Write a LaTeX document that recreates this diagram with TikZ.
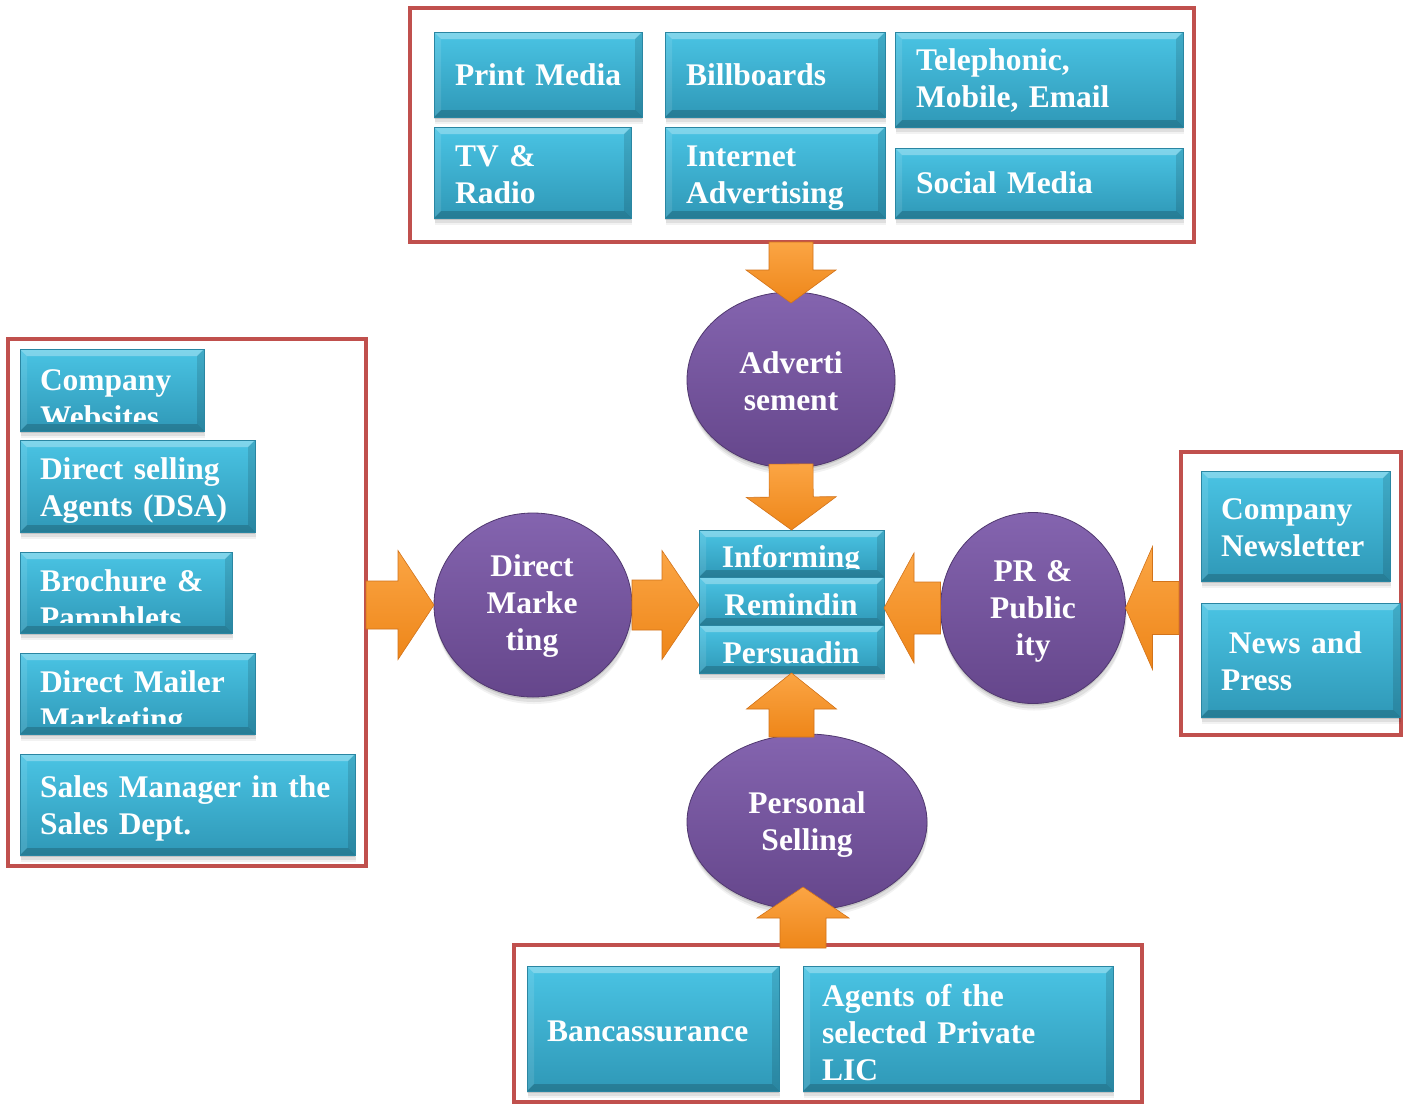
\documentclass[tikz,border=0pt]{standalone}
\usepackage{fontspec}
\setmainfont{Liberation Serif}
\usetikzlibrary{calc,shapes.geometric,shadows}
\definecolor{frm}{HTML}{C0504D}
\definecolor{cyT}{HTML}{4AC4E4}
\definecolor{cyB}{HTML}{2F98B7}
\definecolor{cyE}{HTML}{2A86A2}
\definecolor{puT}{HTML}{8464AF}
\definecolor{puB}{HTML}{65468B}
\definecolor{puE}{HTML}{50386F}
\definecolor{orT}{HTML}{FBA544}
\definecolor{orB}{HTML}{EE8619}
\definecolor{orE}{HTML}{D2731A}
\newcommand\mkbox[5]{\node[cbox, minimum width={#4-#2}, minimum height={#5-#3}] (#1) at ({(#2+#4)/2},{(#3+#5)/2}) {};}
\newcommand\mkframe[5]{\node[framebox, minimum width={#4-#2}, minimum height={#5-#3}] (#1) at ({(#2+#4)/2},{(#3+#5)/2}) {};}
\newcommand\barrow[5]{%
  \coordinate (h) at ($(#2)!#3pt!(#1)$);
  \path[orarrow] ($(#1)!#4pt!90:(#2)$) -- ($(h)!#4pt!-90:(#1)$) -- ($(h)!#5pt!-90:(#1)$) -- (#2)
     -- ($(h)!#5pt!90:(#1)$) -- ($(h)!#4pt!90:(#1)$) -- ($(#1)!#4pt!-90:(#2)$) -- cycle;}
\begin{document}
\begin{tikzpicture}[x=1pt,y=-1pt,
  framebox/.style={rectangle, draw=frm, line width=3.5pt, inner sep=0pt, outer sep=0pt},
  softshadow/.style={
    drop shadow={shadow xshift=0pt, shadow yshift=-2pt, opacity=0.12, fill=black},
    drop shadow={shadow xshift=1pt, shadow yshift=-5pt, opacity=0.08, fill=black},
    drop shadow={shadow xshift=1pt, shadow yshift=-7pt, opacity=0.05, fill=black}},
  cbox/.style={rectangle, inner sep=0pt, outer sep=0pt, top color=cyT, bottom color=cyB,
    draw=cyE, line width=0.8pt, softshadow,
    path picture={
      \fill[white,opacity=0.3] (path picture bounding box.north west) -- (path picture bounding box.north east)
        -- ([shift={(-7pt,-7pt)}]path picture bounding box.north east) -- ([shift={(7pt,-7pt)}]path picture bounding box.north west) -- cycle;
      \fill[black,opacity=0.18] (path picture bounding box.south west) -- (path picture bounding box.south east)
        -- ([shift={(-7pt,7pt)}]path picture bounding box.south east) -- ([shift={(7pt,7pt)}]path picture bounding box.south west) -- cycle;
      \fill[black,opacity=0.12] (path picture bounding box.north east) -- (path picture bounding box.south east)
        -- ([shift={(-7pt,7pt)}]path picture bounding box.south east) -- ([shift={(-7pt,-7pt)}]path picture bounding box.north east) -- cycle;
      \fill[white,opacity=0.1] (path picture bounding box.north west) -- (path picture bounding box.south west)
        -- ([shift={(7pt,7pt)}]path picture bounding box.south west) -- ([shift={(7pt,-7pt)}]path picture bounding box.north west) -- cycle;
    }},
  pell/.style={ellipse, inner sep=0pt, outer sep=0pt, top color=puT, bottom color=puB, draw=puE, line width=0.8pt,
    softshadow},
  orarrow/.style={top color=orT, bottom color=orB, draw=orE, line width=0.6pt, line join=miter},
  txt/.style={text=white, font=\fontsize{31.5}{37}\selectfont\bfseries, inner sep=0pt, outer sep=0pt,
    text width=420pt, align=left, anchor=base west},
  ctxt/.style={text=white, font=\fontsize{31.5}{37}\selectfont\bfseries, inner sep=0pt, outer sep=0pt,
    text width=240pt, align=center, anchor=base}
]
\useasboundingbox[fill=white] (0,0) rectangle (1407,1104);

% frames
\mkframe{topframe}{410}{8}{1194}{242}
\mkframe{lframe}{8}{339}{366}{866}
\mkframe{rframe}{1181}{452}{1401}{735}
\mkframe{bframe}{514}{945}{1142}{1102}

% top boxes
\mkbox{print}{434}{32}{642}{117}
\mkbox{bill}{665}{32}{885}{117}
\mkbox{tel}{895}{32}{1183}{127}
\mkbox{tv}{434}{127}{631}{218}
\mkbox{inet}{665}{127}{885}{218}
\mkbox{social}{895}{148}{1183}{218}
\node[txt] (t-print) at (455,85) {Print Media};
\node[txt] (t-bill) at (686,85) {Billboards};
\node[txt] (t-tel) at (916,70) {Telephonic,\\Mobile, Email};
\node[txt] (t-tv) at (455,166) {TV \&\\Radio};
\node[txt] (t-inet) at (686,166) {Internet\\Advertising};
\node[txt] (t-social) at (916,193) {Social Media};

% left boxes
\mkbox{cweb}{20}{349}{204}{431}
\mkbox{dsa}{20}{440}{255}{532}
\mkbox{broch}{20}{552}{232}{633}
\mkbox{mailer}{20}{653}{255}{734}
\mkbox{sales}{20}{754}{355}{855}
\begin{scope}
  \clip (cweb.north west) rectangle ($(cweb.south east)+(0pt,10pt)$);
  \node[txt] (t-cweb) at (40,390) {Company\\Websites};
\end{scope}
\node[txt] (t-dsa) at (40,479) {Direct selling\\Agents (DSA)};
\begin{scope}
  \clip (broch.north west) rectangle ($(broch.south east)+(0pt,11pt)$);
  \node[txt] (t-broch) at (40,591) {Brochure \&\\Pamphlets};
\end{scope}
\begin{scope}
  \clip (mailer.north west) rectangle ($(mailer.south east)+(0pt,11pt)$);
  \node[txt] (t-mailer) at (40,692) {Direct Mailer\\Marketing};
\end{scope}
\node[txt] (t-sales) at (40,797) {Sales Manager in the\\Sales Dept.};

% right boxes
\mkbox{news}{1201}{471}{1390}{581}
\mkbox{press}{1201}{603}{1400}{717}
\node[txt] (t-news) at (1221,519) {Company\\Newsletter};
\node[txt] (t-press) at (1221,653) {\hspace*{0.25em}News and\\Press};

% bottom boxes
\mkbox{banc}{527}{966}{779}{1091}
\mkbox{agents}{803}{966}{1113}{1091}
\node[txt] (t-banc) at (547,1041) {Bancassurance};
\node[txt] (t-agents) at (822,1006) {Agents of the\\selected Private\\LIC};

% centre stack
\mkbox{inf}{699}{530}{884}{577}
\mkbox{rem}{699}{577}{884}{625}
\mkbox{per}{699}{625}{884}{673}
\begin{scope}
  \clip (inf.north west) rectangle ($(inf.south east)+(0pt,9pt)$);
  \node[ctxt] (t-inf) at (791,567) {Informing};
\end{scope}
\node[ctxt] (t-rem) at (791,615) {Remindin};
\node[ctxt] (t-per) at (791,663) {Persuadin};

% ellipses
\node[pell, minimum width=208, minimum height=176] (adv) at (791,380) {};
\node[pell, minimum width=198, minimum height=184] (dm) at (533,605) {};
\node[pell, minimum width=185, minimum height=191] (pr) at (1033,608) {};
\node[pell, minimum width=240, minimum height=176] (ps) at (807,822) {};
\node[ctxt] (t-adv) at (791,373) {Adverti\\sement};
\node[ctxt] (t-dm) at (532,576) {Direct\\Marke\\ting};
\node[ctxt] (t-pr) at (1033,581) {PR \&\\Public\\ity};
\node[ctxt] (t-ps) at (807,813) {Personal\\Selling};

% block arrows
\coordinate (a1s) at (adv.north |- topframe.south);
\coordinate (a1t) at ($(adv.north)+(0pt,-11pt)$);
\barrow{a1s}{a1t}{33}{22}{45}
\coordinate (a2s) at ($(adv.south)+(0pt,4pt)$);
\coordinate (a2t) at (inf.north);
\barrow{a2s}{a2t}{33}{22}{45}
\coordinate (a3s) at ($(per.south |- ps.north)+(0pt,-3pt)$);
\coordinate (a3t) at (per.south);
\barrow{a3s}{a3t}{36}{22.5}{45}
\coordinate (a4s) at ($(ps.south |- bframe.north)+(-4pt,-3pt)$);
\coordinate (a4t) at ($(ps.south)+(-4pt,23pt)$);
\barrow{a4s}{a4t}{31}{23}{46}
\coordinate (a5s) at (lframe.east |- dm.west);
\coordinate (a5t) at (dm.west);
\barrow{a5s}{a5t}{36}{24}{54.5}
\coordinate (a6s) at (dm.east);
\coordinate (a6t) at (rem.west |- dm.east);
\barrow{a6s}{a6t}{37}{25}{54.5}
\coordinate (a7s) at (pr.west);
\coordinate (a7t) at (rem.east |- pr.west);
\barrow{a7s}{a7t}{30}{26}{55}
\coordinate (a8s) at ($(rframe.west |- pr.east)+(-2pt,0pt)$);
\coordinate (a8t) at (pr.east);
\barrow{a8s}{a8t}{27}{26.5}{61.5}
\end{tikzpicture}
\end{document}
